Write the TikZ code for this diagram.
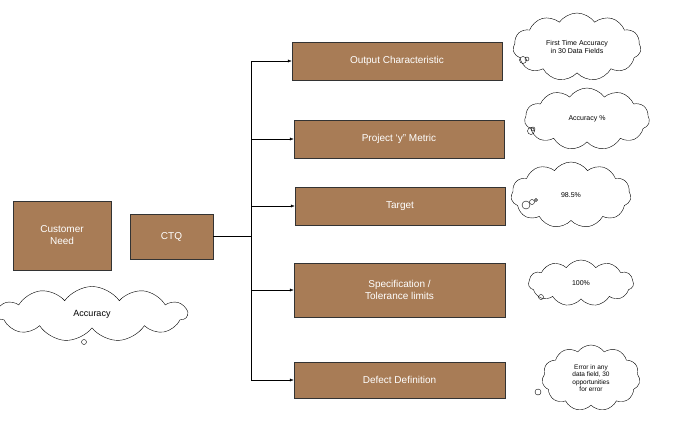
\documentclass[tikz,border=0pt]{standalone}
\usepackage{fontspec}
\setmainfont{Liberation Sans}
\usetikzlibrary{shapes.symbols,arrows.meta}
\definecolor{boxbrown}{HTML}{A87C56}
\tikzset{
  box/.style={draw=black!80,fill=boxbrown,text=white,font=\fontsize{10}{12}\selectfont,align=center,inner sep=0pt},
  note/.style={cloud,cloud puffs=11,cloud puff arc=110,draw,aspect=2,inner sep=0pt,align=center,font=\fontsize{7}{8.5}\selectfont},
  link/.style={-{Latex[length=4pt,width=3pt]}},
  bub/.style={draw,circle,inner sep=0pt},
}
\begin{document}
\begin{tikzpicture}[x=1pt,y=-1pt]
\useasboundingbox (0,0) rectangle (691,429);
% boxes on the left
\node[box,minimum width=98,minimum height=69] (need) at (62,235.5) {Customer\\Need};
\node[box,minimum width=83,minimum height=45] (ctq) at (171.5,236.5) {CTQ};
\node[note,minimum width=190,minimum height=55,font=\fontsize{9}{11}\selectfont] (acc) at (92,314) {Accuracy};
\node[bub,minimum size=5] (b0) at (84,342) {};
% boxes on the right
\node[box,minimum width=210,minimum height=38] (out) at (397,61) {Output Characteristic};
\node[box,minimum width=210,minimum height=38] (metric) at (399,139) {Project ‘y” Metric};
\node[box,minimum width=210,minimum height=38] (target) at (400,206) {Target};
\node[box,minimum width=211,minimum height=54] (spec) at (399.5,290) {Specification /\\Tolerance limits};
\node[box,minimum width=211,minimum height=36] (defect) at (399.5,380) {Defect Definition};
% trunk
\coordinate (j) at (251,236.5);
\coordinate (top) at (251,61);
\coordinate (bot) at (251,380);
\draw (ctq.east) -- (j);
\draw (top) -- (bot);
\foreach \n in {out,metric,target,spec,defect}
  \draw[link] (top |- \n.west) -- (\n.west);
% clouds
\node[note,minimum width=128,minimum height=68] (c1) at (577,47) {First Time Accuracy\\in 30 Data Fields};
\node[note,minimum width=125,minimum height=62] (c2) at (587,119) {Accuracy \%};
\node[note,minimum width=120,minimum height=66] (c3) at (571,195) {98.5\%};
\node[note,minimum width=105,minimum height=46] (c4) at (581,283) {100\%};
\node[note,minimum width=98,minimum height=66,font=\fontsize{6.5}{7.5}\selectfont] (c5) at (591,378) {Error in any\\data field, 30\\opportunities\\for error};
\node[bub,minimum size=7] (b1) at (523,60) {};
\node[bub,minimum size=4] (b1a) at (527,59) {};
\node[bub,minimum size=7] (b2) at (531,131) {};
\node[bub,minimum size=4] (b2a) at (533,129) {};
\node[bub,minimum size=8] (b3) at (526,205) {};
\node[bub,minimum size=5] (b3a) at (532,202) {};
\node[bub,minimum size=3] (b3b) at (536,200) {};
\node[bub,minimum size=5] (b4) at (541,297) {};
\node[bub,minimum size=6] (b5) at (538,392) {};
\end{tikzpicture}
\end{document}
